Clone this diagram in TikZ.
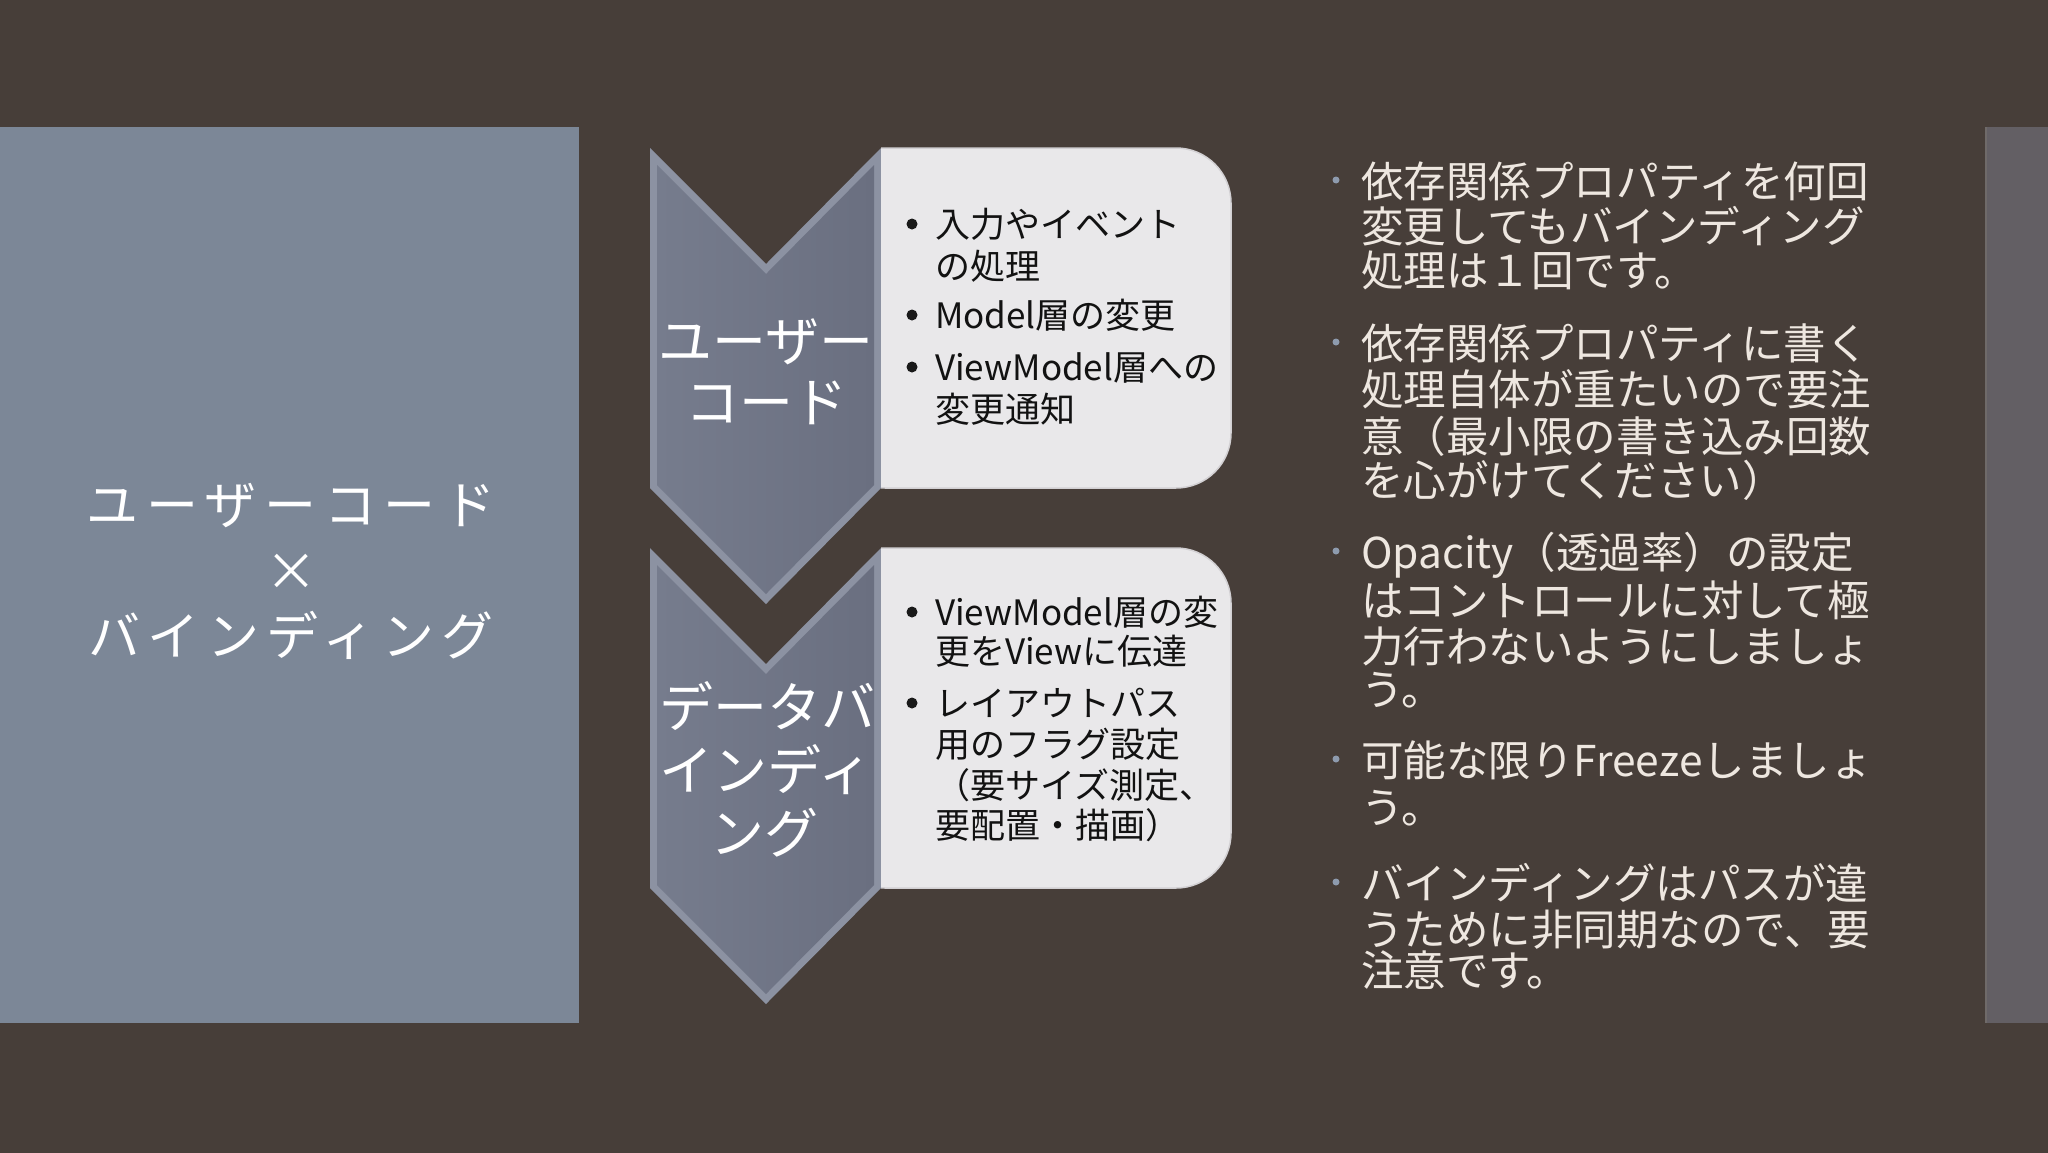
\documentclass[tikz,border=0pt]{standalone}
\usepackage{fontspec}
\setmainfont{Noto Sans CJK JP}
\newfontfamily\paneltitlefont[LetterSpace=14.5]{Noto Sans CJK JP}
\definecolor{bg}{HTML}{473E39}
\definecolor{leftpanel}{HTML}{7C8797}
\definecolor{rightpanel}{HTML}{635F64}
\definecolor{rightedge}{HTML}{6F6A69}
\definecolor{chevlight}{HTML}{8C92A2}
\definecolor{chevA}{HTML}{767C8D}
\definecolor{chevB}{HTML}{6A6F80}
\definecolor{boxfill}{HTML}{E9E8EA}
\definecolor{boxrim}{HTML}{D2D0D3}
\definecolor{righttext}{HTML}{EEE7E0}
\definecolor{rbullet}{HTML}{8E9BAE}
\begin{document}
\begin{tikzpicture}[x=1pt,y=-1pt,
  paneltitle/.style={anchor=center, inner sep=0pt, text=white,
    font=\paneltitlefont\fontsize{52}{60}\selectfont, text height=45.8pt, text depth=6.2pt},
  chevtext/.style={anchor=center, inner sep=0pt, text=white,
    font=\fontsize{54}{62}\selectfont, text height=47.5pt, text depth=6.5pt},
  boxline/.style={anchor=west, inner sep=0pt, text=black!93,
    font=\fontsize{35}{42}\selectfont, text height=30.8pt, text depth=4.2pt},
  boxdot/.style={circle, fill=black!90, inner sep=0pt, minimum size=11pt},
  rline/.style={anchor=west, inner sep=0pt, text=righttext,
    font=\fontsize{42.5}{46}\selectfont, text height=37.4pt, text depth=5.1pt},
  rdot/.style={circle, fill=rbullet, inner sep=0pt, minimum size=7pt},
]
\useasboundingbox (0,0) rectangle (2048,1152);
\fill[bg] (-6,-6) rectangle (2054,1158);
% side panels
\fill[leftpanel] (-6,127) rectangle (579,1023);
\fill[rightpanel] (1985,127) rectangle (2054,1023);
\draw[rightedge, line width=1.5pt] (1985.75,127) -- (1985.75,1023);
% chevrons
\foreach \dy in {0,400}{
  \begin{scope}[yshift=-\dy pt]
    \fill[chevlight] (650,148) -- (766,264) -- (881,148) -- (881,488) -- (766,604) -- (650,488) -- cycle;
    \shade[left color=chevA, right color=chevB] (657,165) -- (766,274) -- (874,165) -- (874,485) -- (766,594) -- (657,485) -- cycle;
  \end{scope}
}
% boxes
\begin{scope}
  \clip (881,0) rectangle (1300,1152);
  \foreach \dy in {0,400}{
    \begin{scope}[yshift=-\dy pt]
      \fill[boxfill, draw=boxrim, line width=1.5pt, rounded corners=55pt] (830,148) rectangle (1231,488);
    \end{scope}
  }
\end{scope}
% left title
\node[paneltitle] (t1) at (291,505) {ユーザーコード};
\node[paneltitle] (t2) at (291,571) {×};
\node[paneltitle] (t3) at (291,636) {バインディング};
% chevron texts
\node[chevtext] (c1a) at (766,341) {ユーザー};
\node[chevtext] (c1b) at (766,402) {コード};
\node[chevtext] (c2a) at (767,707) {データバ};
\node[chevtext] (c2b) at (766,770) {インディ};
\node[chevtext] (c2c) at (764,833) {ング};
% box 1
\node[boxdot] (d11) at (912,224) {};
\node[boxdot] (d12) at (912,315) {};
\node[boxdot] (d13) at (912,367) {};
\node[boxline] (b1l1) at (935,224) {入力やイベント};
\node[boxline] (b1l2) at (935,266) {の処理};
\node[boxline] (b1l3) at (935,315) {Model層の変更};
\node[boxline] (b1l4) at (935,367) {ViewModel層への};
\node[boxline] (b1l5) at (935,409) {変更通知};
% box 2
\node[boxdot] (d21) at (912,612) {};
\node[boxdot] (d22) at (912,703) {};
\node[boxline] (b2l1) at (935,612) {ViewModel層の変};
\node[boxline] (b2l2) at (935,651) {更をViewに伝達};
\node[boxline] (b2l3) at (935,703) {レイアウトパス};
\node[boxline] (b2l4) at (935,744) {用のフラグ設定};
\node[boxline] (b2l5) at (935,785) {（要サイズ測定、};
\node[boxline] (b2l6) at (935,825) {要配置・描画）};
% right column
\node[rdot] (rd1) at (1336,180) {};
\node[rdot] (rd2) at (1336,342) {};
\node[rdot] (rd3) at (1336,551) {};
\node[rdot] (rd4) at (1336,759) {};
\node[rdot] (rd5) at (1336,882) {};
\node[rline] (r1a) at (1361,181) {依存関係プロパティを何回};
\node[rline] (r1b) at (1361,226) {変更してもバインディング};
\node[rline] (r1c) at (1361,270) {処理は１回です。};
\node[rline] (r2a) at (1361,343) {依存関係プロパティに書く};
\node[rline] (r2b) at (1361,389) {処理自体が重たいので要注};
\node[rline] (r2c) at (1361,436) {意（最小限の書き込み回数};
\node[rline] (r2d) at (1361,480) {を心がけてください）};
\node[rline] (r3a) at (1361,552) {Opacity（透過率）の設定};
\node[rline] (r3b) at (1361,600) {はコントロールに対して極};
\node[rline] (r3c) at (1361,646) {力行わないようにしましょ};
\node[rline] (r3d) at (1361,689) {う。};
\node[rline] (r4a) at (1361,760) {可能な限りFreezeしましょ};
\node[rline] (r4b) at (1361,807) {う。};
\node[rline] (r5a) at (1361,883) {バインディングはパスが違};
\node[rline] (r5b) at (1361,929) {うために非同期なので、要};
\node[rline] (r5c) at (1361,970) {注意です。};
\end{tikzpicture}
\end{document}
